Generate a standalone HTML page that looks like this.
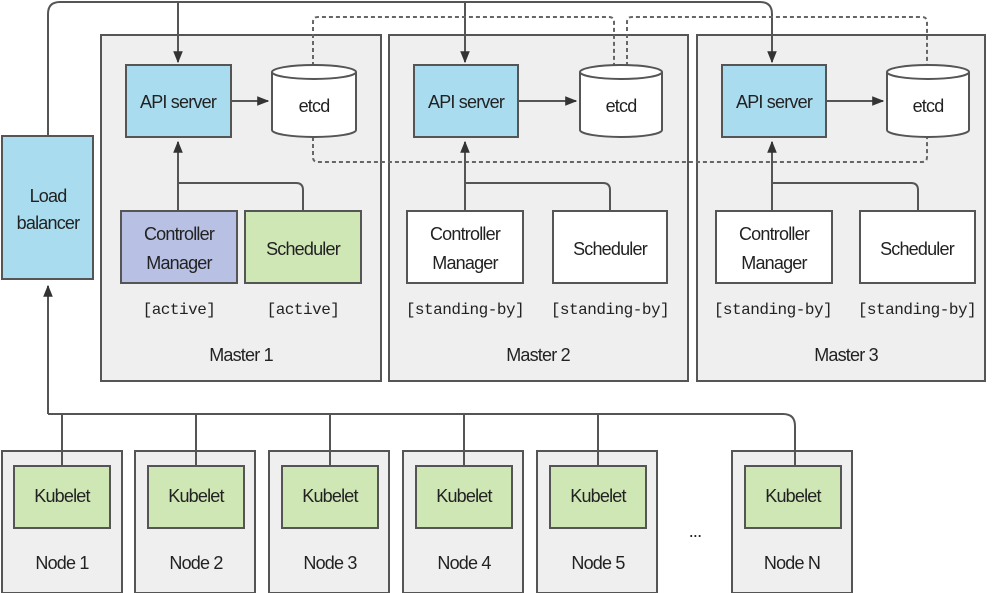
<!DOCTYPE html>
<html><head><meta charset="utf-8"><style>
html,body{margin:0;padding:0;background:#fff;}
svg{display:block;}
text{font-family:"Liberation Sans",sans-serif;font-size:18px;fill:#222;text-anchor:middle;letter-spacing:-0.8px;}
.m{font-family:"Liberation Mono",monospace;font-size:16px;letter-spacing:-0.5px;}
</style></head><body>
<svg width="997" height="593" viewBox="0 0 997 593" xmlns="http://www.w3.org/2000/svg">
<defs>
<marker id="a" viewBox="0 0 10 10" refX="9" refY="5" markerWidth="6" markerHeight="6" orient="auto"><path d="M0,1 L10,5 L0,9 z" fill="#333"/></marker>
</defs>
<!-- masters -->
<g stroke="#555" stroke-width="2" fill="#efeff0">
<rect x="101" y="35" width="280" height="346"/>
<rect x="389" y="35" width="299" height="346"/>
<rect x="697" y="35" width="288" height="346"/>
</g>
<g stroke="#555" stroke-width="2" fill="none">
<path d="M48,136 V14 Q48,2 60,2 H760 Q772,2 772,14 V62" marker-end="url(#a)"/>
<path d="M178,2 V62" marker-end="url(#a)"/>
<path d="M465,2 V62" marker-end="url(#a)"/>
<path d="M48,414 H783 Q795,414 795,426 V466" />
<path d="M48,414 V286" marker-end="url(#a)"/>
<path d="M62,414 V466"/><path d="M196,414 V466"/><path d="M330,414 V466"/><path d="M464,414 V466"/><path d="M598,414 V466"/>
</g>
<!-- dashed -->
<g stroke="#666" stroke-width="2" fill="none" stroke-dasharray="4,3">
<path d="M313,66 V22 Q313,17 318,17 H609 Q614,17 614,22 V66"/>
<path d="M627,66 V22 Q627,17 632,17 H922 Q927,17 927,22 V66"/>
<path d="M313,137 V157 Q313,162 318,162 H922 Q927,162 927,157 V137"/>
</g>
<!-- load balancer -->
<rect x="2" y="136" width="91" height="143" fill="#a9dcef" stroke="#555" stroke-width="2"/>
<text x="48" y="202">Load</text><text x="48" y="229">balancer</text>
<g stroke="#555" stroke-width="2" fill="none">
<path d="M178,211 V142" marker-end="url(#a)"/>
<path d="M303,211 V190 Q303,183 296,183 H178"/>
<path d="M231,101 H268" marker-end="url(#a)"/>
<path d="M465,211 V142" marker-end="url(#a)"/>
<path d="M610,211 V190 Q610,183 603,183 H465"/>
<path d="M518,101 H576" marker-end="url(#a)"/>
<path d="M772,211 V142" marker-end="url(#a)"/>
<path d="M918,211 V190 Q918,183 911,183 H772"/>
<path d="M826,101 H883" marker-end="url(#a)"/>
</g>
<!-- API servers -->
<g stroke="#555" stroke-width="2" fill="#a9dcef">
<rect x="126" y="65" width="105" height="72"/>
<rect x="414" y="65" width="104" height="72"/>
<rect x="722" y="65" width="104" height="72"/>
</g>
<text x="178" y="108">API server</text><text x="466" y="108">API server</text><text x="774" y="108">API server</text>
<!-- etcd -->
<g stroke="#555" stroke-width="2" fill="#fff">
<path d="M272,72 V130 A42,7 0 0 0 356,130 V72"/><ellipse cx="314" cy="72" rx="42" ry="7"/>
<path d="M580,72 V130 A41,7 0 0 0 662,130 V72"/><ellipse cx="621" cy="72" rx="41" ry="7"/>
<path d="M887,72 V130 A41,7 0 0 0 969,130 V72"/><ellipse cx="928" cy="72" rx="41" ry="7"/>
</g>
<text x="314" y="112">etcd</text><text x="621" y="112">etcd</text><text x="928" y="112">etcd</text>
<!-- CM / scheduler -->
<g stroke="#555" stroke-width="2">
<rect x="121" y="211" width="116" height="72" fill="#b8c0e4"/>
<rect x="245" y="211" width="116" height="72" fill="#cfe6b5"/>
<rect x="407" y="211" width="116" height="72" fill="#fff"/>
<rect x="553" y="211" width="114" height="72" fill="#fff"/>
<rect x="716" y="211" width="116" height="72" fill="#fff"/>
<rect x="860" y="211" width="115" height="72" fill="#fff"/>
</g>
<text x="179" y="240">Controller</text><text x="179" y="269">Manager</text>
<text x="303" y="255">Scheduler</text>
<text x="465" y="240">Controller</text><text x="465" y="269">Manager</text>
<text x="610" y="255">Scheduler</text>
<text x="774" y="240">Controller</text><text x="774" y="269">Manager</text>
<text x="917" y="255">Scheduler</text>
<text class="m" x="179" y="314">[active]</text><text class="m" x="303" y="314">[active]</text>
<text class="m" x="465" y="314">[standing-by]</text><text class="m" x="610" y="314">[standing-by]</text>
<text class="m" x="773" y="314">[standing-by]</text><text class="m" x="917" y="314">[standing-by]</text>
<text x="241" y="361">Master 1</text><text x="538" y="361">Master 2</text><text x="846" y="361">Master 3</text>
<!-- nodes -->
<g stroke="#555" stroke-width="2" fill="#efeff0">
<rect x="2" y="451" width="120" height="142"/>
<rect x="135" y="451" width="120" height="142"/>
<rect x="269" y="451" width="120" height="142"/>
<rect x="403" y="451" width="120" height="142"/>
<rect x="537" y="451" width="120" height="142"/>
<rect x="732" y="451" width="120" height="142"/>
</g>
<g stroke="#555" stroke-width="2" fill="#cfe6b5">
<rect x="14" y="466" width="96" height="62"/>
<rect x="148" y="466" width="96" height="62"/>
<rect x="282" y="466" width="96" height="62"/>
<rect x="416" y="466" width="96" height="62"/>
<rect x="550" y="466" width="96" height="62"/>
<rect x="745" y="466" width="96" height="62"/>
</g>
<g stroke="#555" stroke-width="2"><path d="M62,452 V466 M196,452 V466 M330,452 V466 M464,452 V466 M598,452 V466 M795,452 V466"/></g>
<text x="62" y="502">Kubelet</text><text x="196" y="502">Kubelet</text><text x="330" y="502">Kubelet</text>
<text x="464" y="502">Kubelet</text><text x="598" y="502">Kubelet</text><text x="793" y="502">Kubelet</text>
<text x="62" y="569">Node 1</text><text x="196" y="569">Node 2</text><text x="330" y="569">Node 3</text>
<text x="464" y="569">Node 4</text><text x="598" y="569">Node 5</text><text x="792" y="569">Node N</text>
<text x="695" y="537">...</text>
</svg>
</body></html>
